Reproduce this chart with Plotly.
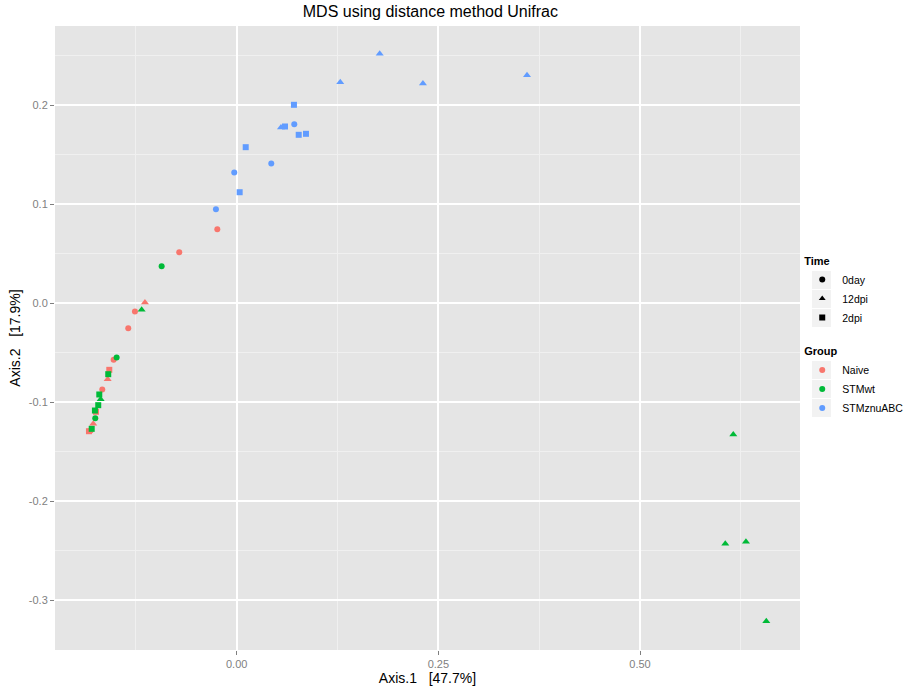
import plotly.graph_objects as go

# ---- data ----
naive_x = [-0.0240, -0.0712, -0.1137, -0.1261, -0.1344, -0.1525, -0.1579, -0.1599, -0.1666, -0.1744, -0.1778, -0.1831, -0.1810]
naive_y = [0.0745, 0.0513, 0.0005, -0.0086, -0.0255, -0.0574, -0.0675, -0.0770, -0.0874, -0.1099, -0.1220, -0.1295, -0.1288]
naive_t = ["0day", "0day", "12dpi", "0day", "0day", "0day", "2dpi", "12dpi", "0day", "2dpi", "12dpi", "2dpi", "0day"]

stmwt_x = [-0.0930, -0.1178, -0.1488, -0.1592, -0.1703, -0.1686, -0.1716, -0.1757, -0.1753, -0.1797, 0.6156, 0.6057, 0.6313, 0.6565]
stmwt_y = [0.0372, -0.0069, -0.0551, -0.0719, -0.0924, -0.0972, -0.1032, -0.1086, -0.1164, -0.1271, -0.1328, -0.2432, -0.2412, -0.3214]
stmwt_t = ["0day", "12dpi", "0day", "2dpi", "2dpi", "12dpi", "2dpi", "2dpi", "0day", "2dpi", "12dpi", "12dpi", "12dpi", "12dpi"]

stmznu_x = [0.1284, 0.1773, 0.2309, 0.3599, 0.0549, 0.0710, 0.0859, 0.0769, 0.0599, 0.0112, 0.0037, 0.0714, 0.0429, -0.0030, -0.0257]
stmznu_y = [0.2230, 0.2517, 0.2217, 0.2301, 0.1773, 0.2002, 0.1709, 0.1699, 0.1783, 0.1574, 0.1119, 0.1806, 0.1409, 0.1318, 0.0947]
stmznu_t = ["12dpi", "12dpi", "12dpi", "12dpi", "12dpi", "2dpi", "2dpi", "2dpi", "2dpi", "2dpi", "2dpi", "0day", "0day", "0day", "0day"]

groups = ["Naive", "STMwt", "STMznuABC"]
times = ["0day", "12dpi", "2dpi"]
colors = {"Naive": "#F8766D", "STMwt": "#00BA38", "STMznuABC": "#619CFF"}
symbols = {"0day": "circle", "12dpi": "triangle-up", "2dpi": "square"}

x_ticks = [0.0, 0.25, 0.5]
x_labels = ["0.00", "0.25", "0.50"]
y_ticks = [-0.3, -0.2, -0.1, 0.0, 0.1, 0.2]
y_labels = ["-0.3", "-0.2", "-0.1", "0.0", "0.1", "0.2"]

data = {
    "Naive": (naive_x, naive_y, naive_t),
    "STMwt": (stmwt_x, stmwt_y, stmwt_t),
    "STMznuABC": (stmznu_x, stmznu_y, stmznu_t),
}

fig = go.Figure()
for g in groups:
    xs, ys, ts = data[g]
    for t in times:
        px = [x for x, tt in zip(xs, ts) if tt == t]
        py = [y for y, tt in zip(ys, ts) if tt == t]
        if not px:
            continue
        fig.add_trace(go.Scatter(
            x=px, y=py, mode="markers", showlegend=False,
            marker=dict(color=colors[g], symbol=symbols[t], size=6 if t != "12dpi" else 7, line=dict(width=0)),
        ))

# legend entries: Time
for t in times:
    fig.add_trace(go.Scatter(
        x=[None], y=[None], mode="markers", name=t, legend="legend",
        marker=dict(color="black", symbol=symbols[t], size=6),
    ))
# legend entries: Group
for g in groups:
    fig.add_trace(go.Scatter(
        x=[None], y=[None], mode="markers", name=g, legend="legend2",
        marker=dict(color=colors[g], symbol="circle", size=6),
    ))

legend_common = dict(
    xanchor="left", yanchor="top", bgcolor="rgba(0,0,0,0)",
    font=dict(family="Liberation Sans, Arial, sans-serif", size=10.5, color="black"),
    itemsizing="trace", tracegroupgap=2, itemwidth=30,
)

# light grey legend key boxes (ggplot style), in pixel terms of the panel
PL, PW, PB, PH = 55, 745, 650, 624
key_rows = [(271, 289), (290, 308), (309, 327), (361, 379), (380, 398), (399, 417)]
shapes = []
for top, bot in key_rows:
    shapes.append(dict(
        type="rect", xref="paper", yref="paper", layer="below",
        x0=(812 - PL) / PW, x1=(831 - PL) / PW,
        y0=(PB - bot) / PH, y1=(PB - top) / PH,
        fillcolor="#F2F2F2", line=dict(width=0),
    ))

fig.update_layout(
    width=908, height=691,
    margin=dict(l=55, r=108, t=26, b=41, autoexpand=False),
    paper_bgcolor="white",
    plot_bgcolor="#E5E5E5",
    font=dict(family="Liberation Sans, Arial, sans-serif"),
    title=dict(text="MDS using distance method Unifrac", x=0.474, xanchor="center", y=0.983, yanchor="middle",
               font=dict(size=16, color="black")),
    legend=dict(x=1.003, y=0.64, title=dict(text="<b>Time</b>", font=dict(size=11)), **legend_common),
    legend2=dict(x=1.003, y=0.495, title=dict(text="<b>Group</b>", font=dict(size=11)), **legend_common),
    shapes=shapes,
    xaxis=dict(
        range=[-0.2252, 0.6983], tickvals=x_ticks, ticktext=x_labels, automargin=False,
        showgrid=True, gridcolor="white", gridwidth=1.5, zeroline=False,
        ticks="outside", ticklen=4, tickcolor="#7F7F7F", tickwidth=1,
        tickfont=dict(size=11, color="#7F7F7F"), showline=False,
        minor=dict(tickvals=[-0.125, 0.125, 0.375, 0.625], showgrid=True, gridcolor="#F0F0F0", gridwidth=0.6, ticks=""),
        title=dict(text="Axis.1   [47.7%]", font=dict(size=14, color="black"), standoff=3),
    ),
    yaxis=dict(
        range=[-0.3505, 0.2798], tickvals=y_ticks, ticktext=y_labels, automargin=False,
        showgrid=True, gridcolor="white", gridwidth=1.5, zeroline=False,
        ticks="outside", ticklen=4, tickcolor="#7F7F7F", tickwidth=1,
        tickfont=dict(size=11, color="#7F7F7F"), showline=False,
        minor=dict(tickvals=[-0.35, -0.25, -0.15, -0.05, 0.05, 0.15, 0.25], showgrid=True, gridcolor="#F0F0F0", gridwidth=0.6, ticks=""),
        title=dict(text="Axis.2   [17.9%]", font=dict(size=14, color="black"), standoff=4),
    ),
)

fig.write_html("out.html", config={"displayModeBar": False},
               post_script="document.body.style.margin='0';")
